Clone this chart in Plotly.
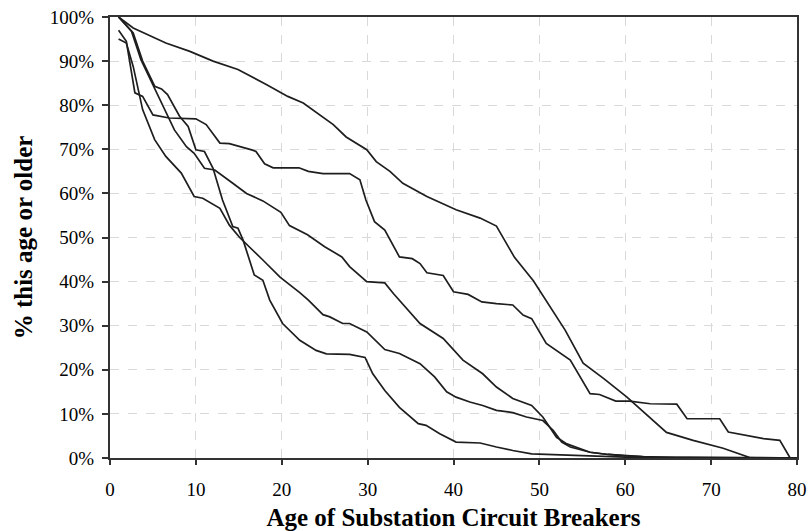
import plotly.graph_objects as go

# Age of substation circuit breakers vs % of population this age or older
age_a = [1, 2.7, 6.5, 9.3, 12, 14.9, 18.2, 20.7, 22.5, 26, 27.5, 29.9, 31, 32.6, 34.1, 36.9,
         40.3, 43.1, 45, 47.1, 49.3, 51, 53, 55.1, 57.5, 60.2, 62.9, 64.8, 67.9, 71.4, 74.5, 80]
pct_a = [100, 97.5, 94.1, 92.2, 90, 88.1, 84.7, 82, 80.5, 75.6, 72.8, 69.9, 67.2, 65, 62.3, 59.3,
         56.3, 54.4, 52.6, 45.5, 40.2, 35, 29, 21.5, 18, 13.8, 9.2, 5.8, 4, 2.2, 0.1, 0]

age_b = [1, 1.9, 2.9, 3.8, 5, 6.9, 10, 11.2, 12.8, 13.9, 16.6, 17, 18, 19, 22, 23.1, 24.8,
         27.9, 29.1, 29.8, 30.8, 32, 33.7, 35.2, 36.1, 36.9, 38.8, 40, 41.7, 43.3, 45, 46.9,
         48.1, 49.1, 50.8, 53.6, 55.9, 57, 58.9, 60.5, 62.9, 66, 67.2, 71, 72, 76.1, 78, 79.2]
pct_b = [97, 94.5, 82.8, 82, 77.8, 77.1, 76.9, 75.6, 71.4, 71.3, 69.8, 69.5, 66.7, 65.8, 65.8,
         65, 64.5, 64.5, 63.1, 58.5, 53.6, 51.7, 45.6, 45.2, 44.1, 42, 41.4, 37.7, 37.1, 35.4,
         35, 34.7, 32.4, 31.6, 26, 22.2, 14.6, 14.4, 12.9, 12.9, 12.3, 12.2, 8.9, 8.9, 5.9, 4.4,
         4, 0]

age_c = [1, 2.5, 3.6, 5, 6.2, 7.5, 8.9, 9.8, 11, 12.2, 14.3, 15.9, 17.8, 19.9, 20.9, 23, 25,
         27, 27.9, 29.9, 32, 33, 36.1, 38.8, 41.1, 43.4, 45, 46.9, 49.1, 50.4, 52, 53.2, 55.9,
         58, 62, 66, 80]
pct_c = [100, 96.8, 90.3, 84.7, 79.7, 74.4, 70.6, 69.1, 65.7, 65.3, 62.3, 60, 58.3, 55.7, 52.7,
         50.6, 47.9, 45.6, 43.4, 40, 39.7, 37.3, 30.5, 27.1, 22.2, 19.1, 16.1, 13.5, 11.9, 9.3,
         4.7, 3.2, 1.3, 0.8, 0.3, 0.1, 0]

age_d = [1, 1.9, 2.7, 3.8, 5.2, 6.5, 8.3, 9.8, 10.8, 12.8, 13.9, 15.1, 17.8, 19.8, 22.1, 23.1,
         24.8, 25.6, 27.1, 27.9, 29.9, 32, 33.7, 36.1, 37.8, 39.2, 40.3, 41.9, 43.4, 45, 46.9,
         48.5, 50.4, 51.6, 52.6, 53.6, 55.9, 58, 60, 63, 80]
pct_d = [95, 94.1, 88.8, 79, 72.2, 68.4, 64.6, 59.3, 58.9, 56.6, 52.8, 50, 44.9, 41, 37.5,
         35.8, 32.5, 32, 30.5, 30.5, 28.6, 24.6, 23.7, 21.4, 18.4, 15, 13.8, 12.7, 11.9, 10.8,
         10.3, 9.3, 8.5, 6.3, 3.6, 2.5, 1.3, 0.8, 0.5, 0.2, 0]

age_e = [1, 2.7, 3.8, 5.2, 6, 6.7, 8.1, 9.1, 10, 11, 12, 13.1, 14.3, 14.9, 15.5, 16.8, 17.8,
         18.6, 20.1, 22.1, 24, 25.2, 27.9, 29.7, 30.6, 32, 33.7, 35.9, 36.8, 38.4, 40.3, 43.1,
         45, 46.9, 49.1, 51.2, 55, 60, 65, 80]
pct_e = [100, 96.4, 90, 84.3, 83.7, 82.4, 77.5, 75.2, 69.9, 69.5, 65.7, 58.5, 52.5, 52.1, 49.4,
         41.5, 40.3, 35.8, 30.5, 26.7, 24.4, 23.6, 23.5, 22.8, 19.1, 15.3, 11.5, 7.8, 7.4, 5.5,
         3.6, 3.4, 2.5, 1.7, 0.95, 0.8, 0.5, 0.2, 0.1, 0]

series = [(age_a, pct_a), (age_b, pct_b), (age_c, pct_c), (age_d, pct_d), (age_e, pct_e)]

fig = go.Figure()
for ages, pcts in series:
    fig.add_trace(go.Scatter(x=ages, y=[p / 100 for p in pcts], mode='lines',
                             line=dict(color='#1e1e1e', width=1.7), showlegend=False))

serif = "Liberation Serif, Times New Roman, serif"
fig.update_layout(width=809, height=531, margin=dict(l=110, r=12, t=17, b=73),
                  paper_bgcolor='white', plot_bgcolor='white',
                  font=dict(family=serif, size=19, color='black'))
fig.update_xaxes(range=[0, 80], dtick=10, tick0=0, showgrid=True, griddash='dash',
                 gridcolor='#d9d9d9', gridwidth=1, zeroline=False, automargin=False,
                 showline=True, linecolor='#333333', linewidth=2, mirror=True,
                 ticks='outside', ticklen=5, tickwidth=2, tickcolor='#333333',
                 ticklabelstandoff=8,
                 title=dict(text='<b>Age of Substation Circuit Breakers</b>',
                            font=dict(size=25), standoff=11))
fig.update_yaxes(range=[0, 1], dtick=0.1, tickformat='.0%', showgrid=True, griddash='dash',
                 gridcolor='#d9d9d9', gridwidth=1, zeroline=False, automargin=False,
                 showline=True, linecolor='#333333', linewidth=2, mirror=True,
                 ticks='outside', ticklen=6, tickwidth=2, tickcolor='#333333',
                 ticklabelstandoff=4,
                 title=dict(text='<b>% this age or older</b>', font=dict(size=25), standoff=10))

# drop the browser's default 8px body margin so the figure fills the window
fig.write_html("out.html", config={'displayModeBar': False},
               post_script="document.body.style.margin = '0';")
